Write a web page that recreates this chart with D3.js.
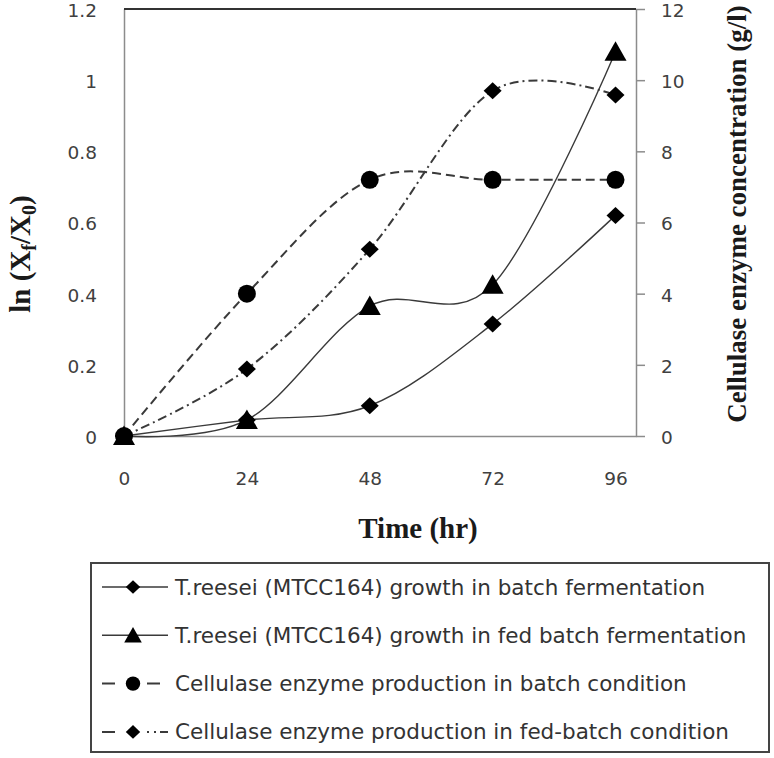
<!DOCTYPE html>
<html>
<head>
<meta charset="utf-8">
<script src="https://cdn.jsdelivr.net/npm/d3@7"></script>
<style>
  body { margin: 0; background: #fff; }
  .tick text { font-family: "DejaVu Sans", sans-serif; font-size: 18.5px; fill: #404040; }
  .title { font-family: "Liberation Serif", serif; font-weight: bold; fill: #1a1a1a; }
  .legend text { font-family: "DejaVu Sans", sans-serif; font-size: 21.5px; fill: #333; }
</style>
</head>
<body>
<div id="chart"></div>
<script>
// dados
const horas = [0, 24, 48, 72, 96];
const crescBatch = [0, 0.045, 0.085, 0.315, 0.62];
const crescFedBatch = [0, 0.045, 0.365, 0.425, 1.08];
const enzimaBatch = [0, 4.0, 7.2, 7.2, 7.2];
const enzimaFedBatch = [0, 1.88, 5.25, 9.7, 9.58];

const ticksEsq = [0, 0.2, 0.4, 0.6, 0.8, 1, 1.2];
const ticksDir = [0, 2, 4, 6, 8, 10, 12];

const nomes = [
  "T.reesei (MTCC164) growth in batch fermentation",
  "T.reesei (MTCC164) growth in fed batch fermentation",
  "Cellulase enzyme production in batch condition",
  "Cellulase enzyme production in fed-batch condition"
];

// Configurações do gráfico
const W = 774, H = 758;
const plot = { left: 124, right: 636, top: 9, bottom: 436 };

const svg = d3.select("#chart").append("svg")
  .attr("width", W).attr("height", H);

const x = d3.scaleLinear().domain([0, 100]).range([plot.left, plot.right]);
const yEsq = d3.scaleLinear().domain([0, 1.2]).range([plot.bottom, plot.top]);
const yDir = d3.scaleLinear().domain([0, 12]).range([plot.bottom, plot.top]);

const series = [
  { nome: nomes[0], valores: crescBatch, y: yEsq, marcador: "diamante", dash: null, legDash: null },
  { nome: nomes[1], valores: crescFedBatch, y: yEsq, marcador: "triangulo", dash: null, legDash: null },
  { nome: nomes[2], valores: enzimaBatch, y: yDir, marcador: "circulo", dash: "9,5", legDash: "13,32,13,40" },
  { nome: nomes[3], valores: enzimaFedBatch, y: yDir, marcador: "diamante", dash: "9,4,2,4", legDash: "13,32,2,5,2,4,9,40" }
];

function marcador(tipo, k = 1) {
  if (tipo === "diamante") return `M0,${-8.5 * k}L${9 * k},0L0,${8.5 * k}L${-9 * k},0Z`;
  if (tipo === "triangulo") return `M0,${-10.5 * k}L${11 * k},${9 * k}L${-11 * k},${9 * k}Z`;
  return d3.symbol().type(d3.symbolCircle).size(Math.PI * 81 * k * k)();
}

// Eixos
svg.append("g")
  .attr("transform", `translate(${plot.left},0)`)
  .call(d3.axisLeft(yEsq).tickValues(ticksEsq).tickSize(0).tickPadding(27).tickFormat(d => d))
  .call(g => g.select(".domain").attr("stroke", "#8c8c8c").attr("stroke-width", 1.5))
  .call(g => g.selectAll(".tick text").attr("dy", "0.4em"));

svg.append("g")
  .attr("transform", `translate(${plot.right},0)`)
  .call(d3.axisRight(yDir).tickValues(ticksDir).tickSize(9).tickSizeOuter(0).tickPadding(16))
  .call(g => g.select(".domain").attr("stroke", "#8c8c8c").attr("stroke-width", 1.5))
  .call(g => g.selectAll(".tick line").attr("stroke", "#8c8c8c").attr("stroke-width", 1.5))
  .call(g => g.selectAll(".tick text").attr("dy", "0.4em"));

svg.append("g")
  .attr("transform", `translate(0,${plot.bottom})`)
  .call(d3.axisBottom(x).tickValues(horas).tickSize(0).tickPadding(36))
  .call(g => g.select(".domain").attr("stroke", "#8c8c8c").attr("stroke-width", 1.5));

// borda de cima
svg.append("line")
  .attr("x1", plot.left).attr("x2", plot.right)
  .attr("y1", plot.top).attr("y2", plot.top)
  .attr("stroke", "#333").attr("stroke-width", 2.2);

// Linhas e marcadores
series.forEach(s => {
  const linha = d3.line()
    .x((d, i) => x(horas[i]))
    .y(d => s.y(d))
    .curve(d3.curveCatmullRom.alpha(0));

  svg.append("path")
    .datum(s.valores)
    .attr("d", linha)
    .attr("fill", "none")
    .attr("stroke", "#3a3a3a")
    .attr("stroke-width", s.dash ? 2 : 1.4)
    .attr("stroke-dasharray", s.dash);
});

series.forEach(s => {
  svg.append("g").selectAll("path")
    .data(s.valores)
    .join("path")
    .attr("transform", (d, i) => `translate(${x(horas[i])},${s.y(d)})`)
    .attr("d", marcador(s.marcador))
    .attr("fill", "#000");
});

// Títulos dos eixos
svg.append("text")
  .attr("class", "title")
  .attr("x", 418).attr("y", 538)
  .attr("text-anchor", "middle")
  .style("font-size", "29px")
  .text("Time (hr)");

const tEsq = svg.append("text")
  .attr("class", "title")
  .attr("transform", "translate(30,254) rotate(-90)")
  .attr("text-anchor", "middle")
  .style("font-size", "29px");
tEsq.append("tspan").text("ln (X");
tEsq.append("tspan").attr("dy", 6).style("font-size", "20px").text("f");
tEsq.append("tspan").attr("dy", -6).text("/X");
tEsq.append("tspan").attr("dy", 6).style("font-size", "20px").text("0");
tEsq.append("tspan").attr("dy", -6).text(")");

svg.append("text")
  .attr("class", "title")
  .attr("transform", "translate(746,214) rotate(-90)")
  .attr("text-anchor", "middle")
  .style("font-size", "27px")
  .text("Cellulase enzyme concentration (g/l)");

// Legenda
const leg = svg.append("g").attr("class", "legend");
leg.append("rect")
  .attr("x", 91).attr("y", 563).attr("width", 678).attr("height", 189)
  .attr("fill", "#fff").attr("stroke", "#444").attr("stroke-width", 2);

series.forEach((s, i) => {
  const cy = 587 + i * 48.3;
  leg.append("line")
    .attr("x1", 102).attr("x2", 168).attr("y1", cy).attr("y2", cy)
    .attr("stroke", "#3a3a3a")
    .attr("stroke-width", s.dash ? 2 : 1.4)
    .attr("stroke-dasharray", s.legDash);
  leg.append("path")
    .attr("transform", `translate(133,${cy})`)
    .attr("d", marcador(s.marcador, 0.8))
    .attr("fill", "#000");
  leg.append("text")
    .attr("x", 175).attr("y", cy + 7.5)
    .text(s.nome);
});
</script>
</body>
</html>
